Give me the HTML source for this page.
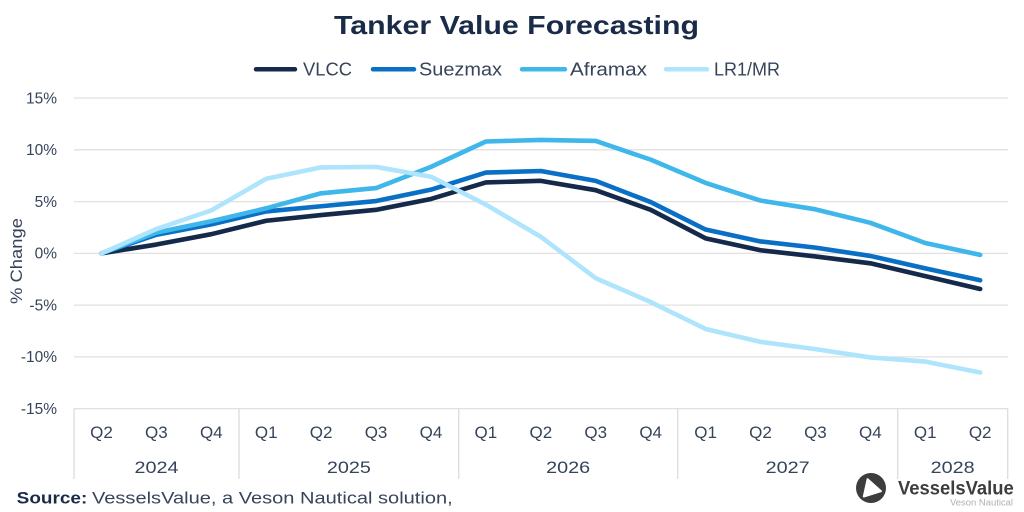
<!DOCTYPE html>
<html><head><meta charset="utf-8"><style>
html,body{margin:0;padding:0;background:#fff;}
svg{display:block;}
text{font-family:"Liberation Sans",sans-serif;}
</style></head><body>
<svg width="1024" height="512" viewBox="0 0 1024 512" xmlns="http://www.w3.org/2000/svg">
<rect width="1024" height="512" fill="#fff"/>
<!-- Title -->
<text x="334" y="34" font-size="26" font-weight="bold" fill="#1a2b48" textLength="365" lengthAdjust="spacingAndGlyphs">Tanker Value Forecasting</text>
<!-- Legend -->
<g stroke-width="4.5" stroke-linecap="round">
<line x1="256" y1="69.3" x2="295" y2="69.3" stroke="#15294a"/>
<line x1="373" y1="69.3" x2="414" y2="69.3" stroke="#0a70c6"/>
<line x1="522" y1="69.3" x2="565" y2="69.3" stroke="#3fb7ea"/>
<line x1="666" y1="69.3" x2="707" y2="69.3" stroke="#aee5fc"/>
</g>
<g font-size="18" fill="#36445a">
<text x="303" y="75.7" textLength="49" lengthAdjust="spacingAndGlyphs">VLCC</text>
<text x="419" y="75.7" textLength="83" lengthAdjust="spacingAndGlyphs">Suezmax</text>
<text x="570" y="75.7" textLength="77" lengthAdjust="spacingAndGlyphs">Aframax</text>
<text x="714" y="75.7" textLength="66" lengthAdjust="spacingAndGlyphs">LR1/MR</text>
</g>
<!-- Gridlines -->
<g stroke="#e1e1e1" stroke-width="1.3">
<line x1="74" y1="98" x2="1008" y2="98"/>
<line x1="74" y1="149.8" x2="1008" y2="149.8"/>
<line x1="74" y1="201.6" x2="1008" y2="201.6"/>
<line x1="74" y1="253.35" x2="1008" y2="253.35"/>
<line x1="74" y1="305.1" x2="1008" y2="305.1"/>
<line x1="74" y1="356.9" x2="1008" y2="356.9"/>
<line x1="74" y1="408.7" x2="1008" y2="408.7"/>
</g>
<!-- category separators -->
<g stroke="#dcdcdc" stroke-width="1.3">
<line x1="74" y1="408.7" x2="74" y2="479"/>
<line x1="239" y1="408.7" x2="239" y2="479"/>
<line x1="458.7" y1="408.7" x2="458.7" y2="479"/>
<line x1="677.7" y1="408.7" x2="677.7" y2="479"/>
<line x1="897.7" y1="408.7" x2="897.7" y2="479"/>
<line x1="1007.7" y1="408.7" x2="1007.7" y2="479"/>
</g>
<!-- Y labels -->
<g font-size="15.5" fill="#36445a" text-anchor="end">
<text x="57" y="103.3">15%</text>
<text x="57" y="155.1">10%</text>
<text x="57" y="206.9">5%</text>
<text x="57" y="258.6">0%</text>
<text x="57" y="310.4">-5%</text>
<text x="57" y="362.2">-10%</text>
<text x="57" y="414">-15%</text>
</g>
<text transform="translate(22,261) rotate(-90)" font-size="17" fill="#36445a" text-anchor="middle" textLength="86" lengthAdjust="spacingAndGlyphs">% Change</text>
<!-- Q labels -->
<g font-size="17" fill="#36445a" text-anchor="middle">
<text x="101.46" y="438">Q2</text>
<text x="156.38" y="438">Q3</text>
<text x="211.30" y="438">Q4</text>
<text x="266.22" y="438">Q1</text>
<text x="321.14" y="438">Q2</text>
<text x="376.06" y="438">Q3</text>
<text x="430.98" y="438">Q4</text>
<text x="485.9" y="438">Q1</text>
<text x="540.82" y="438">Q2</text>
<text x="595.74" y="438">Q3</text>
<text x="650.66" y="438">Q4</text>
<text x="705.58" y="438">Q1</text>
<text x="760.5" y="438">Q2</text>
<text x="815.42" y="438">Q3</text>
<text x="870.34" y="438">Q4</text>
<text x="925.26" y="438">Q1</text>
<text x="980.18" y="438">Q2</text>
</g>
<g font-size="17" fill="#36445a">
<text x="134.5" y="473" textLength="44" lengthAdjust="spacingAndGlyphs">2024</text>
<text x="326.9" y="473" textLength="44" lengthAdjust="spacingAndGlyphs">2025</text>
<text x="546.2" y="473" textLength="44" lengthAdjust="spacingAndGlyphs">2026</text>
<text x="765.7" y="473" textLength="44" lengthAdjust="spacingAndGlyphs">2027</text>
<text x="930.7" y="473" textLength="44" lengthAdjust="spacingAndGlyphs">2028</text>
</g>
<!-- Series -->
<g fill="none" stroke-width="4.6" stroke-linejoin="round" stroke-linecap="round">
<polyline stroke="#15294a" points="101.46,253.35 156.38,244.55 211.30,234.19 266.22,220.73 321.14,215.03 376.06,209.85 430.98,198.98 485.9,182.40 540.82,180.85 595.74,190.17 650.66,209.85 705.58,238.33 760.5,250.24 815.42,256.46 870.34,263.29 925.26,276.14 980.18,288.98"/>
<polyline stroke="#0a70c6" points="101.46,253.35 156.38,234.71 211.30,224.35 266.22,211.40 321.14,206.23 376.06,201.05 430.98,189.65 485.9,172.57 540.82,171.01 595.74,180.85 650.66,202.08 705.58,229.53 760.5,241.44 815.42,247.65 870.34,255.94 925.26,268.37 980.18,280.28"/>
<polyline stroke="#3fb7ea" points="101.46,253.35 156.38,232.64 211.30,221.24 266.22,208.30 321.14,193.28 376.06,188.10 430.98,166.87 485.9,141.49 540.82,139.94 595.74,140.98 650.66,159.62 705.58,182.92 760.5,200.53 815.42,209.33 870.34,222.80 925.26,242.99 980.18,254.90"/>
<polyline stroke="#aee5fc" points="101.46,253.35 156.38,229.01 211.30,210.37 266.22,178.78 321.14,167.39 376.06,166.87 430.98,176.71 485.9,204.67 540.82,236.78 595.74,278.21 650.66,302.03 705.58,328.96 760.5,341.90 815.42,349.15 870.34,357.44 925.26,361.58 980.18,372.46"/>
</g>
<!-- Source -->
<text x="16.7" y="503.3" font-size="17" font-weight="bold" fill="#1a2b48" textLength="70.6" lengthAdjust="spacingAndGlyphs">Source:</text>
<text x="92" y="503.3" font-size="17" fill="#36445a" textLength="360.7" lengthAdjust="spacingAndGlyphs">VesselsValue, a Veson Nautical solution,</text>
<!-- Logo -->
<circle cx="871" cy="488" r="15" fill="#3d3d3d"/>
<path d="M863.8,496.5 L867.6,479.2 L881,491.2 Z" fill="#fff" stroke="#fff" stroke-width="2" stroke-linejoin="round"/>
<text x="898" y="494.5" font-size="19" font-weight="bold" fill="#3d3d3d" textLength="115.7" lengthAdjust="spacingAndGlyphs">VesselsValue</text>
<text x="950" y="505.5" font-size="9.5" fill="#b0b0b0" textLength="63" lengthAdjust="spacingAndGlyphs">Veson Nautical</text>
</svg>
</body></html>
